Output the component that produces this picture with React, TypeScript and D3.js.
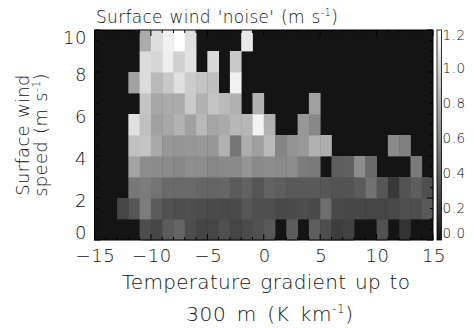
import React from "react";
import * as d3 from "d3";

const _ = null;

// x bins: left edges of 1 K/km bins from -15 to 14
const xBinStarts = [-15,-14,-13,-12,-11,-10,-9,-8,-7,-6,-5,-4,-3,-2,-1,0,1,2,3,4,5,6,7,8,9,10,11,12,13,14];
// y bins: lower edges of 1 m/s bins
const yBinStarts = [0,1,2,3,4,5,6,7,8,9];

// noise values (m s-1), one row per wind-speed bin (y=0 first), columns follow xBinStarts
const row0 = [_,_,_,_,0.29,0.26,0.36,0.41,0.29,0.25, 0.25,0.3,0.25,0.28,0.31,0.35,_,0.37,_,0.38, 0.29,0.21,0.23,_,_,0.31,_,0.16,_,_];
const row1 = [_,_,0.25,0.33,0.53,0.36,0.31,0.29,0.3,0.29, 0.28,0.27,0.28,0.34,0.3,0.3,0.27,0.28,0.29,0.27, 0.46,0.27,0.26,0.26,0.25,0.25,0.27,0.3,0.29,0.35];
const row2 = [_,_,_,0.51,0.53,0.49,0.44,0.44,0.44,0.42, 0.41,0.42,0.36,0.4,0.33,0.4,0.38,0.35,0.35,0.35, 0.34,0.32,0.32,0.36,0.48,0.34,0.19,0.32,0.38,0.3];
const row3 = [_,_,_,0.73,0.62,0.61,0.61,0.58,0.62,0.62, 0.58,0.6,0.6,0.66,0.6,0.62,0.6,0.62,0.53,0.52, _,0.38,0.39,0.62,0.44,_,_,_,0.52,_];
const row4 = [_,_,_,0.88,0.9,0.76,0.67,0.66,0.67,0.68, 0.67,0.8,0.5,0.78,0.71,0.84,0.57,0.65,0.68,0.8, 0.78,_,_,_,_,_,0.61,0.55,_,_];
const row5 = [_,_,_,1.04,0.88,0.72,0.75,0.81,0.72,0.84, 0.74,0.77,0.83,0.83,1.14,0.8,_,_,0.67,0.59, _,_,_,_,_,_,_,_,_,_];
const row6 = [_,_,_,_,0.9,0.75,0.77,0.77,0.93,0.8, 0.9,0.85,0.8,_,0.8,_,_,_,_,0.72, _,_,_,_,_,_,_,_,_,_];
const row7 = [_,_,_,0.72,1.02,0.84,0.92,1.04,0.94,0.9, 0.88,_,1.13,_,_,_,_,_,_,_, _,_,_,_,_,_,_,_,_,_];
const row8 = [_,_,_,_,1.02,0.99,1.12,0.96,1.05,_, 1.0,_,0.92,_,_,_,_,_,_,_, _,_,_,_,_,_,_,_,_,_];
const row9 = [_,_,_,_,0.77,1.03,1.13,1.2,1.04,_, _,_,_,1.09,_,_,_,_,_,_, _,_,_,_,_,_,_,_,_,_];
const noiseRows = [row0,row1,row2,row3,row4,row5,row6,row7,row8,row9];

const xTicks = [-15,-10,-5,0,5,10,15];
const yTicks = [0,2,4,6,8,10];
const cbTicks = [0.0,0.2,0.4,0.6,0.8,1.0,1.2];

const FONT = "'DejaVu Sans', sans-serif";

export default function App() {
  const W = 474, H = 328;
  const x = d3.scaleLinear().domain([-15, 15]).range([94.5, 433]);
  const y = d3.scaleLinear().domain([0, 10]).range([240, 30]);
  const cb = d3.scaleLinear().domain([0, 1.2]).range([240, 30]);
  const gray = d3.interpolateRgb("#141414", "#ffffff");
  const color = (v: number) => gray(Math.max(0, Math.min(1, v / 1.2)));

  const cells: any[] = [];
  noiseRows.forEach((row, j) => {
    row.forEach((v, i) => {
      if (v === null) return;
      const x0 = xBinStarts[i];
      const y0 = yBinStarts[j];
      const px0 = x(x0), px1 = x(x0 + 1);
      const py0 = y(y0 + 1), py1 = y(y0);
      cells.push(
        <rect key={`${i}-${j}`} x={px0} y={py0} width={px1 - px0 + 0.4} height={py1 - py0 + 0.4} fill={color(v as number)} />
      );
    });
  });

  const [xl, xr] = x.range();
  const [yb, yt] = y.range();

  const xMinor = d3.range(-15, 16, 1);
  const yMinor = d3.range(0, 10.01, 0.5);

  const ticks: any[] = [];
  xMinor.forEach((t) => {
    const major = t % 5 === 0;
    const len = major ? 6 : 3;
    const px = x(t);
    ticks.push(<line key={`xb${t}`} x1={px} x2={px} y1={yb} y2={yb - len} />);
    ticks.push(<line key={`xt${t}`} x1={px} x2={px} y1={yt} y2={yt + len} />);
  });
  yMinor.forEach((t) => {
    const major = Math.abs(t % 2) < 1e-6;
    const len = major ? 6 : 3;
    const py = y(t);
    ticks.push(<line key={`yl${t}`} x1={xl} x2={xl + len} y1={py} y2={py} />);
    ticks.push(<line key={`yr${t}`} x1={xr} x2={xr - len} y1={py} y2={py} />);
  });

  const cbX = 437, cbW = 4.5;
  const txt = { fontFamily: FONT, fontWeight: 200, fill: "#111" } as any;

  return (
    <svg width={W} height={H} style={{ display: "block", position: "absolute", left: 0, top: 0, background: "#fff" }}>
      <defs>
        <linearGradient id="cbg" x1="0" y1="1" x2="0" y2="0">
          <stop offset="0" stopColor={color(0)} />
          <stop offset="1" stopColor={color(1.2)} />
        </linearGradient>
      </defs>
      <rect x={xl} y={yt} width={xr - xl} height={yb - yt} fill="#141414" />
      {cells}
      <g stroke="#000" strokeWidth={1}>{ticks}</g>
      <rect x={xl} y={yt} width={xr - xl} height={yb - yt} fill="none" stroke="#000" strokeWidth={1} />

      {/* colorbar */}
      <rect x={cbX} y={cb(1.2)} width={cbW} height={cb(0) - cb(1.2)} fill="url(#cbg)" stroke="#000" strokeWidth={0.8} />
      {cbTicks.map((t) => (
        <text key={`cb${t}`} {...txt} x={442.5} y={Math.max(35, Math.min(233, cb(t) + 3)) + 5} fontSize={13.5} letterSpacing={0.6}>
          {t.toFixed(1)}
        </text>
      ))}

      {/* tick labels */}
      {xTicks.map((t) => (
        <text key={`xl${t}`} {...txt} x={x(t) + 1} y={262} textAnchor="middle" fontSize={18} letterSpacing={0.6}>
          {t < 0 ? `\u2212${Math.abs(t)}` : `${t}`}
        </text>
      ))}
      {yTicks.map((t) => (
        <text key={`ylab${t}`} {...txt} x={87} y={Math.max(37, Math.min(232.5, y(t) + 2.5)) + 6.5} textAnchor="end" fontSize={18} letterSpacing={0.6}>
          {t}
        </text>
      ))}

      {/* title */}
      <text {...txt} x={96} y={23} fontSize={17} letterSpacing={0.3} wordSpacing={1}>
        Surface wind 'noise' (m s<tspan fontSize={10} dy={-7}>-1</tspan><tspan dy={7}>)</tspan>
      </text>

      {/* x title */}
      <text {...txt} x={266} y={289} textAnchor="middle" fontSize={20} letterSpacing={0.3} wordSpacing={2}>
        Temperature gradient up to
      </text>
      <text {...txt} x={270} y={321} textAnchor="middle" fontSize={20} letterSpacing={0.6} wordSpacing={3.5}>
        300 m (K km<tspan fontSize={12} dy={-8}>-1</tspan><tspan dy={8}>)</tspan>
      </text>

      {/* y title */}
      <g transform="translate(29,135) rotate(-90)">
        <text {...txt} x={0} y={0} textAnchor="middle" fontSize={18} letterSpacing={0.3} wordSpacing={1}>
          Surface wind
        </text>
        <text {...txt} x={0} y={18} textAnchor="middle" fontSize={18} letterSpacing={0.3} wordSpacing={1}>
          speed (m s<tspan fontSize={11} dy={-7}>-1</tspan><tspan dy={7}>)</tspan>
        </text>
      </g>
    </svg>
  );
}
